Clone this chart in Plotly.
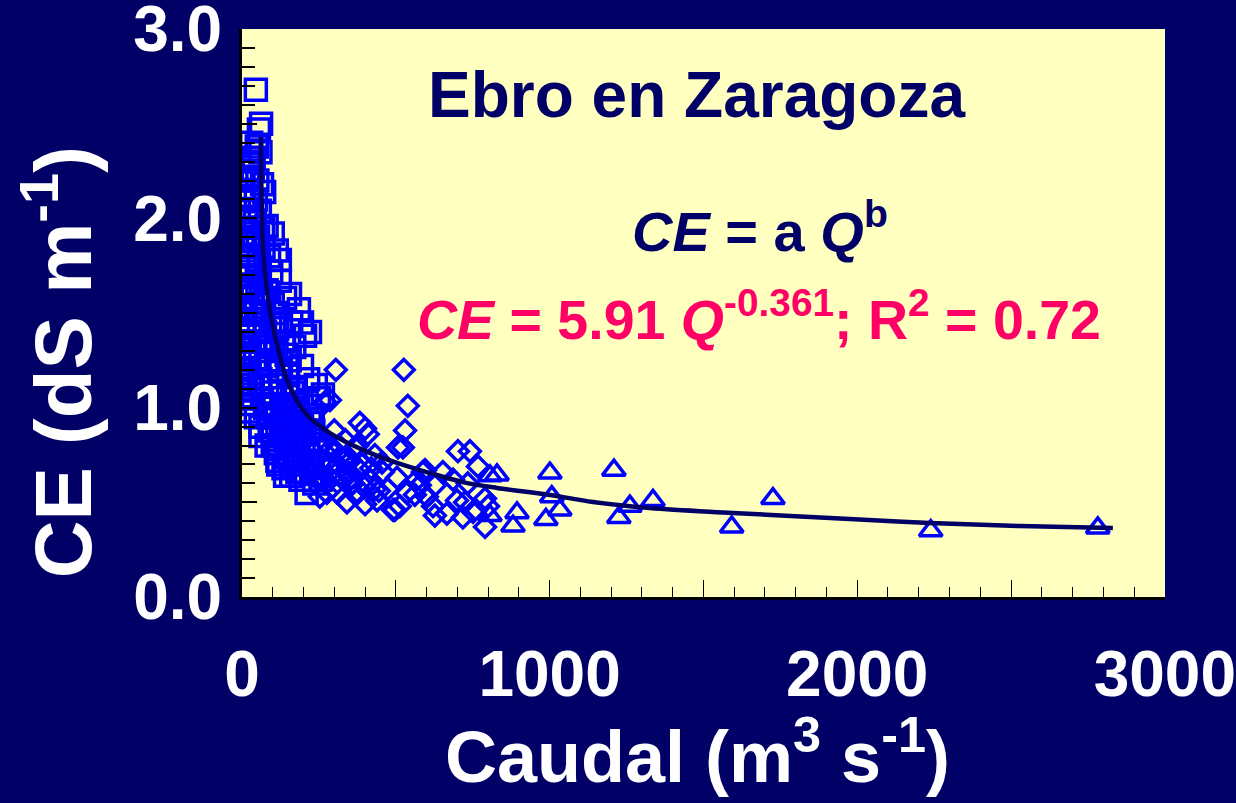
import plotly.graph_objects as go

# ---- data ----
sq_q = [45, 62, 55, 30, 48, 38, 60, 22, 20, 35, 50, 65, 28, 45, 72,
        15, 30, 42, 58, 80, 100, 22, 68,
        10, 25, 40, 55, 70, 88, 113, 123, 18, 48, 95,
        8, 20, 35, 50, 65, 80, 100, 123, 140, 156, 185, 12, 45, 110,
        8, 25, 40, 55, 75, 90, 115, 135, 160, 195, 205, 15, 60, 170, 221,
        10, 25, 42, 60, 80, 100, 125, 150, 175, 195, 215, 240, 263, 35, 145,
        30, 45, 65, 85, 105, 130, 160, 185, 210, 230, 250, 60, 115, 10, 20, 5,
        60, 80, 100, 120, 140, 165, 190, 215, 240, 110,
        115, 135, 155, 180, 200, 225, 250,
        210, 190, 235,
        5, 6, 8, 7, 9, 5, 6, 8, 10, 12,
        22, 25, 28, 30, 32, 26, 24, 34, 36,
        52, 58, 62, 70, 78, 85, 56, 75, 90,
        105, 112, 120, 128, 135, 142, 150, 118,
        155, 165, 175, 190, 200, 215, 230, 255,
        95, 108, 125, 138, 150, 162, 172, 182, 195, 205, 220, 232, 245,
        90, 100, 130, 145, 170, 185, 200, 222, 160, 140]
sq_ce = [2.68, 2.50, 2.47, 2.40, 2.38, 2.32, 2.35, 2.30, 2.22, 2.25, 2.20, 2.18, 2.12, 2.10, 2.14,
         2.05, 2.00, 1.98, 2.04, 1.96, 1.92, 1.92, 1.95,
         1.85, 1.80, 1.88, 1.78, 1.85, 1.80, 1.83, 1.78, 1.72, 1.70, 1.72,
         1.65, 1.62, 1.58, 1.66, 1.55, 1.62, 1.55, 1.67, 1.58, 1.60, 1.52, 1.52, 1.50, 1.50,
         1.45, 1.42, 1.35, 1.45, 1.40, 1.32, 1.42, 1.35, 1.45, 1.45, 1.38, 1.32, 1.30, 1.32, 1.40,
         1.25, 1.18, 1.25, 1.15, 1.22, 1.12, 1.25, 1.18, 1.10, 1.22, 1.15, 1.12, 1.07, 1.10, 1.28,
         1.02, 0.95, 1.05, 0.95, 1.02, 0.92, 1.00, 0.93, 1.03, 0.96, 1.05, 0.90, 0.90, 1.05, 0.98, 1.15,
         0.85, 0.80, 0.86, 0.78, 0.84, 0.80, 0.86, 0.78, 0.83, 0.76,
         0.72, 0.68, 0.73, 0.66, 0.72, 0.65, 0.70,
         0.55, 0.62, 0.60,
         2.20, 2.10, 1.95, 1.80, 1.70, 1.58, 1.40, 1.35, 1.20, 1.10,
         2.15, 1.90, 1.75, 1.65, 1.50, 1.38, 1.28, 1.12, 1.05,
         1.90, 1.70, 1.60, 1.50, 1.35, 1.25, 1.12, 1.00, 0.95,
         1.45, 1.30, 1.20, 1.05, 0.98, 0.88, 0.82, 0.70,
         1.25, 1.08, 0.98, 0.90, 0.82, 0.75, 0.68, 0.62,
         1.08, 0.96, 1.12, 0.95, 1.06, 0.88, 0.95, 1.02, 0.92, 0.86, 0.92, 0.88, 0.78,
         0.88, 0.80, 0.85, 0.74, 0.70, 0.74, 0.66, 0.70, 0.64, 0.64]

dm_q = [305, 526, 539, 530, 507, 523, 383, 400, 409, 270, 318, 367, 455, 504, 569, 595,
        653, 686, 536, 474, 416, 341, 276, 253, 439, 497, 513, 621, 666, 601, 699, 702,
        741, 767, 734, 790, 725, 751, 718, 790, 800, 627, 491, 400, 286, 328, 458, 588,
        221, 247, 302, 351, 383, 432, 335, 286, 237, 370, 432, 562, 578, 627,
        260, 295, 315, 345, 360, 390, 420, 445, 310, 330, 375,
        268, 290, 322, 352, 398, 270, 300, 355]
dm_ce = [1.20, 1.20, 1.01, 0.88, 0.79, 0.79, 0.92, 0.89, 0.86, 1.03, 0.74, 0.79, 0.71, 0.63, 0.62, 0.67,
         0.66, 0.62, 0.55, 0.57, 0.62, 0.50, 0.55, 0.53, 0.51, 0.46, 0.48, 0.48, 0.44, 0.53, 0.51, 0.77,
         0.77, 0.69, 0.60, 0.52, 0.50, 0.45, 0.42, 0.37, 0.48, 0.43, 0.46, 0.49, 1.04, 0.72, 0.66, 0.66,
         0.67, 0.62, 0.65, 0.59, 0.67, 0.75, 0.83, 0.78, 0.88, 0.54, 0.57, 0.54, 0.59, 0.59,
         0.72, 0.58, 0.80, 0.66, 0.60, 0.70, 0.68, 0.56, 0.55, 0.62, 0.80,
         0.62, 0.70, 0.68, 0.72, 0.58, 0.82, 0.88, 0.63]

tr_q = [806, 829, 806, 894, 881, 1001, 1007, 988, 1033, 1209, 1225, 1261, 1336, 1592, 1726, 2239, 2782]
tr_ce = [0.64, 0.645, 0.43, 0.445, 0.375, 0.655, 0.53, 0.41, 0.46, 0.67, 0.42, 0.48, 0.51, 0.37, 0.52, 0.35, 0.365]

fit_q = [61, 64, 69, 84, 101, 133, 156, 211, 286, 393, 504, 611, 718, 829, 1001, 1141, 1326,
         1596, 1976, 2236, 2528, 2831]
fit_ce = [2.43, 2.08, 1.82, 1.585, 1.426, 1.215, 1.109, 0.961, 0.866, 0.777, 0.708, 0.655, 0.607,
          0.576, 0.539, 0.502, 0.470, 0.444, 0.412, 0.391, 0.375, 0.365]

x_tickvals = [0, 500, 1000, 1500, 2000, 2500, 3000]
x_ticktext = ["0", "", "1000", "", "2000", "", "3000"]
y_tickvals = [0, 0.5, 1.0, 1.5, 2.0, 2.5, 3.0]
y_ticktext = ["0.0", "", "1.0", "", "2.0", "", "3.0"]

NAVY = "#000066"
BLUE = "#0000FF"
FONT = "Liberation Sans, Arial, sans-serif"

fig = go.Figure()
fig.add_trace(go.Scatter(x=sq_q, y=sq_ce, mode="markers",
                         marker=dict(symbol="square-open", size=21, color=BLUE, line=dict(width=3.5, color=BLUE))))
fig.add_trace(go.Scatter(x=dm_q, y=dm_ce, mode="markers",
                         marker=dict(symbol="diamond-open", size=16, color=BLUE, line=dict(width=3.5, color=BLUE))))
fig.add_trace(go.Scatter(x=tr_q, y=tr_ce, mode="markers",
                         marker=dict(symbol="triangle-up-open", size=20, color=BLUE, line=dict(width=3.5, color=BLUE))))
fig.add_trace(go.Scatter(x=fit_q, y=fit_ce, mode="lines",
                         line=dict(color=NAVY, width=4.5, shape="spline")))

fig.update_layout(
    width=1236, height=803,
    paper_bgcolor=NAVY, plot_bgcolor="#FFFFC0",
    margin=dict(l=242, r=71, t=29, b=206),
    showlegend=False,
    font=dict(family=FONT),
)
fig.update_xaxes(range=[0, 3000.5], tickmode="array", tickvals=x_tickvals, ticktext=x_ticktext,
                 ticks="inside", ticklen=17, tickwidth=1, tickcolor="black",
                 minor=dict(tick0=0, dtick=100, ticks="inside", ticklen=10, tickcolor="black", tickwidth=1),
                 showline=True, linecolor="black", linewidth=3, showgrid=False, zeroline=False,
                 tickfont=dict(family=FONT, size=64, color="white", weight="bold"),
                 ticklabelstandoff=19, ticklabeloverflow="allow", automargin=False)
fig.update_yaxes(range=[0, 3.0005], tickmode="array", tickvals=y_tickvals, ticktext=y_ticktext,
                 ticks="inside", ticklen=15, tickwidth=2, tickcolor="black",
                 minor=dict(tick0=0, dtick=0.1, ticks="inside", ticklen=13, tickcolor="black", tickwidth=2),
                 showline=True, linecolor="black", linewidth=3, showgrid=False, zeroline=False,
                 tickfont=dict(family=FONT, size=64, color="white", weight="bold"),
                 ticklabelstandoff=4, ticklabeloverflow="allow", automargin=False)

annots = [
    dict(text="<b>Ebro en Zaragoza</b>", x=0.4919, y=0.884, size=64, color=NAVY, angle=0),
    dict(text="<b><i>CE</i> = a <i>Q</i><sup>b</sup></b>", x=0.561, y=0.650, size=56, color=NAVY, angle=0),
    dict(text="<b><i>CE</i> = 5.91 <i>Q</i><sup>-0.361</sup>; R<sup>2</sup> = 0.72</b>", x=0.560, y=0.495,
         size=55.5, color="#FF0066", angle=0),
    dict(text="<b>Caudal (m<sup>3</sup> s<sup>-1</sup>)</b>", x=0.493, y=-0.272, size=72, color="white", angle=0),
    dict(text="<b>CE (dS m<sup>-1</sup>)</b>", x=-0.2, y=0.414, size=80, color="white", angle=-90),
]
for a in annots:
    fig.add_annotation(text=a["text"], x=a["x"], y=a["y"], xref="paper", yref="paper",
                       xanchor="center", yanchor="middle", showarrow=False, textangle=a["angle"],
                       font=dict(family=FONT, size=a["size"], color=a["color"]))

fig.write_html("out.html")
